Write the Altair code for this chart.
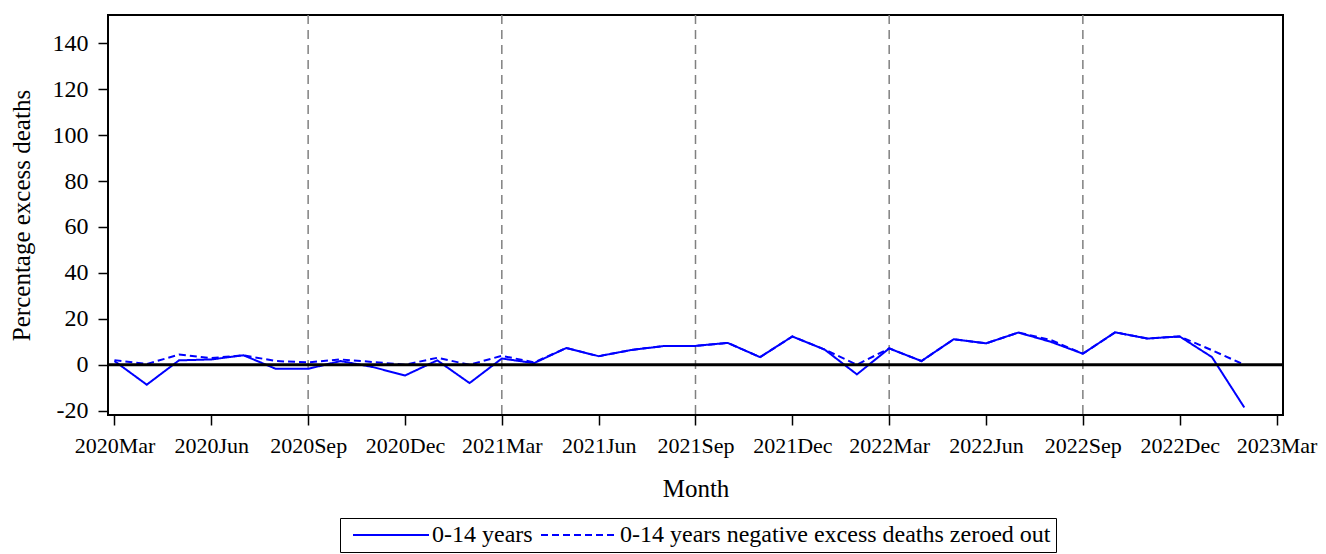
import altair as alt
import pandas as pd

# ---- data ----
month_index = list(range(36))  # 0 = 2020 Mar ... 35 = 2023 Feb
all_excess = [1.6, -8.7, 1.9, 2.3, 4.1, -1.8, -1.8, 1.6, -1.0, -4.7,
              1.9, -8.0, 2.7, 0.7, 7.3, 3.7, 6.4, 8.1, 8.2, 9.5,
              3.3, 12.3, 6.6, -4.2, 7.1, 1.6, 11.1, 9.3, 14.0, 10.0,
              4.8, 14.1, 11.4, 12.3, 3.3, -18.6]
zeroed_excess = [2.0, 0.3, 4.4, 2.9, 4.1, 1.6, 1.0, 2.3, 1.2, 0.0,
                 3.0, 0.0, 3.9, 1.0, 7.3, 3.7, 6.4, 8.1, 8.2, 9.5,
                 3.3, 12.3, 6.6, 0.0, 7.1, 1.6, 11.1, 9.3, 14.0, 10.8,
                 4.8, 14.1, 11.4, 12.3, 6.3, 0.0]
series_names = ["0-14 years", "0-14 years negative excess deaths zeroed out"]

x_tick_values = list(range(0, 37, 3))
x_tick_labels = ["2020Mar", "2020Jun", "2020Sep", "2020Dec",
                 "2021Mar", "2021Jun", "2021Sep", "2021Dec",
                 "2022Mar", "2022Jun", "2022Sep", "2022Dec", "2023Mar"]
y_tick_values = [-20, 0, 20, 40, 60, 80, 100, 120, 140]
half_year_marks = [6, 12, 18, 24, 30]
zero_level = [0]

df = pd.DataFrame({
    "m": month_index + month_index,
    "v": all_excess + zeroed_excess,
    "s": [series_names[0]] * len(month_index) + [series_names[1]] * len(month_index),
})
vlines = pd.DataFrame({"m": half_year_marks})
zero_df = pd.DataFrame({"v": zero_level})

FONT = "Liberation Serif"
label_expr = "[" + ",".join(f"'{t}'" for t in x_tick_labels) + "][round(datum.value/3)]"

x_scale = alt.Scale(domain=[-0.2, 36.2], nice=False, zero=False)
y_scale = alt.Scale(domain=[-21.9, 152.3], nice=False, zero=False)

x_enc = alt.X("m:Q", scale=x_scale,
              axis=alt.Axis(values=x_tick_values, labelExpr=label_expr, title="Month",
                            labelPadding=10, titlePadding=20, labelOverlap=False,
                            labelFlush=False, labelFontSize=22, titleFontSize=25))
y_enc = alt.Y("v:Q", scale=y_scale,
              axis=alt.Axis(values=y_tick_values, labelExpr="'' + datum.value",
                            title="Percentage excess deaths", labelFontSize=24,
                            labelPadding=10, titlePadding=18, titleFontSize=25))

legend = alt.Legend(title=None, orient="none", legendX=232, legendY=503,
                    direction="horizontal", symbolType="stroke", symbolSize=5776,
                    symbolStrokeWidth=2, clipHeight=24, labelFont=FONT,
                    labelFontSize=24, labelColor="black", labelLimit=0,
                    strokeColor="black", padding=5, symbolOffset=7, labelOffset=2,
                    columnPadding=0, fillColor="white")

lines = alt.Chart(df).mark_line(strokeWidth=2).encode(
    x=x_enc,
    y=y_enc,
    color=alt.Color("s:N", scale=alt.Scale(domain=series_names, range=["#0000ff", "#0000ff"]),
                    legend=legend),
    strokeDash=alt.StrokeDash("s:N", scale=alt.Scale(domain=series_names, range=[[1, 0], [7, 4]]),
                              legend=legend),
)

vrules = alt.Chart(vlines).mark_rule(color="#808080", strokeDash=[9, 6], strokeWidth=1.5).encode(
    x=alt.X("m:Q", scale=x_scale)
)

zero_rule = alt.Chart(zero_df).mark_rule(color="black", strokeWidth=3).encode(
    y=alt.Y("v:Q", scale=y_scale)
)

chart = alt.layer(vrules, lines, zero_rule).properties(
    width=1175, height=400,
    autosize=alt.AutoSizeParams(type="none"),
    padding={"left": 100, "top": 7, "right": 35, "bottom": 139},
).configure_view(
    stroke="black", strokeWidth=2
).configure_axis(
    domain=False, grid=False, tickColor="black", tickWidth=1.5, tickSize=10,
    labelFont=FONT, labelFontSize=23, labelColor="black",
    titleFont=FONT, titleFontSize=24, titleFontWeight="normal", titleColor="black",
)

chart.save("out.html", embed_options={"renderer": "svg", "actions": False})
